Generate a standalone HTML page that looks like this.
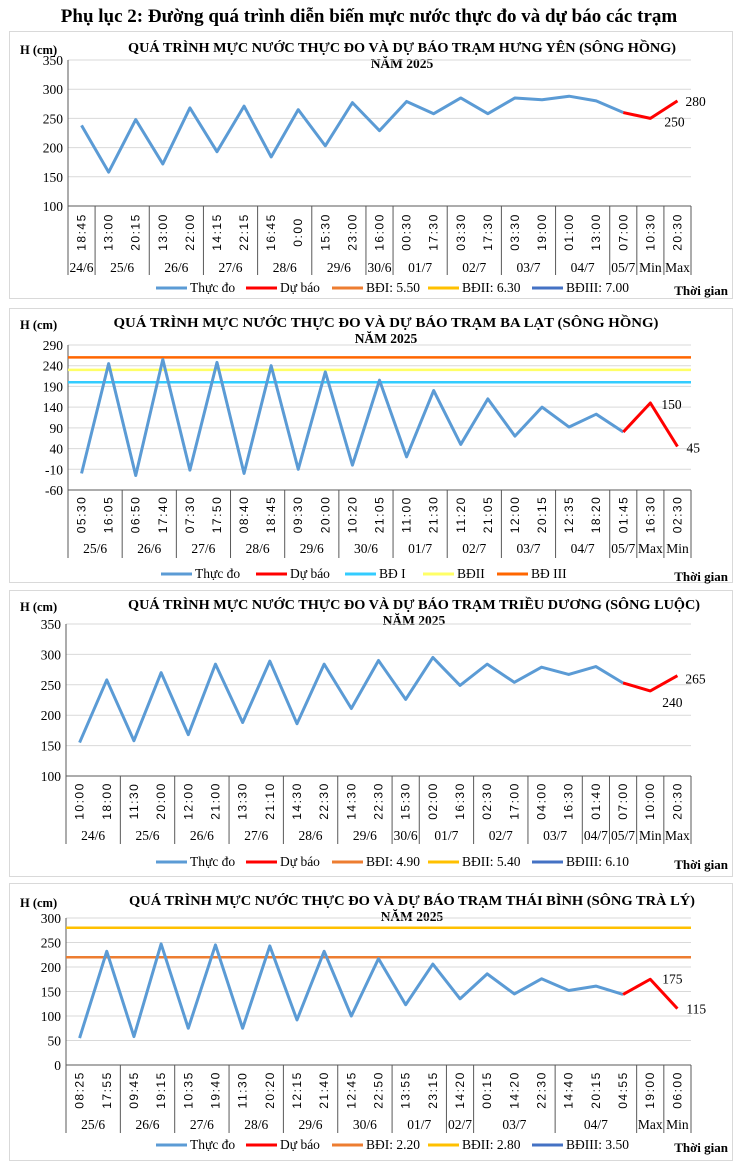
<!DOCTYPE html>
<html><head><meta charset="utf-8">
<style>
body{margin:0;background:#fff;width:738px;height:1162px;overflow:hidden;font-family:"Liberation Serif",serif}
svg{position:absolute;left:0;top:0}
</style></head><body>
<svg id="s" width="738" height="1162" xmlns="http://www.w3.org/2000/svg" font-family="Liberation Serif, serif">
<text x="369" y="22" text-anchor="middle" font-size="19" font-weight="bold">Phụ lục 2: Đường quá trình diễn biến mực nước thực đo và dự báo các trạm</text>
</svg>
<script>
// Chart 1 - Hưng Yên
const c1Times=["18:45","13:00","20:15","13:00","22:00","14:15","22:15","16:45","0:00","15:30","23:00","16:00","00:30","17:30","03:30","17:30","03:30","19:00","01:00","13:00","07:00","10:30","20:30"];
const c1Groups=["24/6","25/6","26/6","27/6","28/6","29/6","30/6","01/7","02/7","03/7","04/7","05/7","Min","Max"];
const c1GroupSizes=[1,2,2,2,2,2,1,2,2,2,2,1,1,1];
const c1Observed=[238,158,248,172,268,193,271,184,265,203,277,229,279,258,285,258,285,282,288,280,260];
const c1Forecast=[260,250,280];
const c1Ticks=[100,150,200,250,300,350];
// Chart 2 - Ba Lạt
const c2Times=["05:30","16:05","06:50","17:40","07:30","17:50","08:40","18:45","09:30","20:00","10:20","21:05","11:00","21:30","11:20","21:05","12:00","20:15","12:35","18:20","01:45","16:30","02:30"];
const c2Groups=["25/6","26/6","27/6","28/6","29/6","30/6","01/7","02/7","03/7","04/7","05/7","Max","Min"];
const c2GroupSizes=[2,2,2,2,2,2,2,2,2,2,1,1,1];
const c2Observed=[-20,245,-25,255,-12,248,-20,240,-10,225,0,205,20,180,50,160,70,140,92,123,80];
const c2Forecast=[80,150,45];
const c2Ticks=[-60,-10,40,90,140,190,240,290];
const c2Levels=[200,230,260];
// Chart 3 - Triều Dương
const c3Times=["10:00","18:00","11:30","20:00","12:00","21:00","13:30","21:10","14:30","22:30","14:30","22:30","15:30","02:00","16:30","02:30","17:00","04:00","16:30","01:40","07:00","10:00","20:30"];
const c3Groups=["24/6","25/6","26/6","27/6","28/6","29/6","30/6","01/7","02/7","03/7","04/7","05/7","Min","Max"];
const c3GroupSizes=[2,2,2,2,2,2,1,2,2,2,1,1,1,1];
const c3Observed=[155,258,158,270,168,284,188,289,186,284,211,290,226,295,249,284,254,279,267,280,253];
const c3Forecast=[253,240,265];
const c3Ticks=[100,150,200,250,300,350];
// Chart 4 - Thái Bình
const c4Times=["08:25","17:55","09:45","19:15","10:35","19:40","11:30","20:20","12:15","21:40","12:45","22:50","13:55","23:15","14:20","00:15","14:20","22:30","14:40","20:15","04:55","19:00","06:00"];
const c4Groups=["25/6","26/6","27/6","28/6","29/6","30/6","01/7","02/7","03/7","04/7","Max","Min"];
const c4GroupSizes=[2,2,2,2,2,2,2,1,3,3,1,1];
const c4Observed=[55,232,58,247,75,245,75,243,92,232,100,217,123,206,135,186,145,176,152,161,144];
const c4Forecast=[144,175,115];
const c4Ticks=[0,50,100,150,200,250,300];
const c4Levels=[220,280];

const NS="http://www.w3.org/2000/svg";
const svg=document.getElementById('s');
function mk(tag,attrs,parent,text){const e=document.createElementNS(NS,tag);for(const k in attrs)e.setAttribute(k,attrs[k]);if(text!==undefined)e.textContent=text;(parent||svg).appendChild(e);return e;}

function chart(o){
  const g=mk('g',{});
  
  
  const fr=mk('rect',{x:9.5,y:o.top+0.5,width:723,height:o.bottom-o.top,fill:'none',stroke:'#d9d9d9'},g);
  
  
  const t1=mk('text',{x:o.titleX,y:o.t1y,'text-anchor':'middle','font-size':14,'font-weight':'bold',textLength:o.titleW,lengthAdjust:'spacingAndGlyphs'},g,o.title);
  
  
  const t2=mk('text',{x:o.titleX,y:o.t1y+16,'text-anchor':'middle','font-size':13.5,'font-weight':'bold'},g,'NĂM 2025');
  
  
  const yt=mk('text',{x:20,y:o.t1y+2,'font-size':12.5,'font-weight':'bold'},g,'H (cm)');
  
  
  const lo=o.ticks[0],hi=o.ticks[o.ticks.length-1];
  const Y=v=>o.yB-(v-lo)/(hi-lo)*(o.yB-o.yT);
  const n=o.times.length,cw=(o.xR-o.xL)/n;
  const X=i=>o.xL+cw*(i+0.5);
  o.ticks.forEach(v=>{
    if(v!==lo){const gl=mk('line',{x1:o.xL,x2:o.xR,y1:Y(v),y2:Y(v),stroke:'#d9d9d9'},g);
    
    }
    const tl=mk('text',{x:o.xL-5,y:Y(v)+5,'text-anchor':'end','font-size':13.5},g,String(v));
    
    
  });
  mk('line',{x1:o.xL,x2:o.xL,y1:o.yT,y2:o.yB,stroke:'#595959'},g);
  mk('line',{x1:o.xL,x2:o.xR,y1:o.yB,y2:o.yB,stroke:'#595959'},g);
  const midT=(o.yB+o.dateY-14)/2;
  o.times.forEach((t,i)=>{
    const tx=mk('text',{x:X(i)+4,y:midT,'text-anchor':'middle','font-size':12,'letter-spacing':'1.5',transform:`rotate(-90 ${X(i)+4} ${midT})`,'font-family':'Liberation Sans, sans-serif'},g,t);
    
    
  });
  let k=0;
  mk('line',{x1:o.xL,x2:o.xL,y1:o.yB,y2:o.catB,stroke:'#595959'},g);
  o.groups.forEach((gname,j)=>{
    const s=o.sizes[j];
    const cx=o.xL+cw*(k+s/2);
    const dt=mk('text',{x:cx,y:o.dateY,'text-anchor':'middle','font-size':13.5},g,gname);
    
    
    k+=s;
    mk('line',{x1:o.xL+cw*k,x2:o.xL+cw*k,y1:o.yB,y2:o.catB,stroke:'#595959'},g);
  });
  (o.levels||[]).forEach((v,i)=>{
    const l=mk('line',{x1:o.xL,x2:o.xR,y1:Y(v),y2:Y(v),stroke:o.levelColors[i],'stroke-width':2.5},g);
    
    
  });
  const obs=mk('polyline',{points:o.obs.map((v,i)=>X(i)+','+Y(v)).join(' '),fill:'none',stroke:'#5b9bd5','stroke-width':3,'stroke-linejoin':'round'},g);
  
  
  const off=o.obs.length-1;
  const fc=mk('polyline',{points:o.fc.map((v,i)=>X(i+off)+','+Y(v)).join(' '),fill:'none',stroke:'#ff0000','stroke-width':3,'stroke-linejoin':'round'},g);
  
  
  o.fcLabels.forEach(([i,dx,dy])=>{
    const v=o.fc[i];
    const lb=mk('text',{x:X(i+off)+dx,y:Y(v)+dy,'font-size':13.5},g,String(v));
    
    
  });
  o.legend.forEach(([x,col,txt])=>{
    mk('line',{x1:x,x2:x+31,y1:o.legY-4,y2:o.legY-4,stroke:col,'stroke-width':3},g);
    const lt=mk('text',{x:x+34,y:o.legY,'font-size':13.5},g,txt);
    
    
  });
  const xt=mk('text',{x:728,y:o.legY+3,'text-anchor':'end','font-size':13,'font-weight':'bold'},g,'Thời gian');
  
  
}
const leg3=(a,b,c)=>[[156,'#5b9bd5','Thực đo'],[246,'#ff0000','Dự báo'],[332,'#ed7d31',a],[428,'#ffc000',b],[532,'#4472c4',c]];
chart({name:'chart-hung-yen',top:31,bottom:298,title:'QUÁ TRÌNH MỰC NƯỚC THỰC ĐO VÀ DỰ BÁO TRẠM HƯNG YÊN  (SÔNG HỒNG)',titleX:402,titleW:548,t1y:52,
 ticks:c1Ticks,yT:60,yB:206,xL:68,xR:691,catB:275,dateY:272,times:c1Times,groups:c1Groups,sizes:c1GroupSizes,obs:c1Observed,fc:c1Forecast,
 fcLabels:[[2,8,5],[1,14,8]],legY:292,legend:leg3('BĐI: 5.50','BĐII: 6.30','BĐIII: 7.00')});
chart({name:'chart-ba-lat',top:308,bottom:582,title:'QUÁ TRÌNH MỰC NƯỚC THỰC ĐO VÀ DỰ BÁO TRẠM BA LẠT (SÔNG HỒNG)',titleX:386,titleW:545,t1y:327,
 ticks:c2Ticks,yT:345,yB:490,xL:68,xR:691,catB:558,dateY:553,times:c2Times,groups:c2Groups,sizes:c2GroupSizes,obs:c2Observed,fc:c2Forecast,
 levels:c2Levels,levelColors:['#33ccff','#ffff66','#ff6600'],
 fcLabels:[[1,11,6],[2,9,6]],legY:578,legend:[[161,'#5b9bd5','Thực đo'],[256,'#ff0000','Dự báo'],[345,'#33ccff','BĐ I'],[423,'#ffff66','BĐII'],[497,'#ff6600','BĐ III']]});
chart({name:'chart-trieu-duong',top:590,bottom:876,title:'QUÁ TRÌNH MỰC NƯỚC THỰC ĐO VÀ DỰ BÁO TRẠM TRIỀU DƯƠNG  (SÔNG LUỘC)',titleX:414,titleW:572,t1y:609,
 ticks:c3Ticks,yT:624,yB:776,xL:66,xR:691,catB:844,dateY:840,times:c3Times,groups:c3Groups,sizes:c3GroupSizes,obs:c3Observed,fc:c3Forecast,
 fcLabels:[[2,8,8],[1,12,16]],legY:866,legend:leg3('BĐI: 4.90','BĐII: 5.40','BĐIII: 6.10')});
chart({name:'chart-thai-binh',top:883,bottom:1160,title:'QUÁ TRÌNH MỰC NƯỚC THỰC ĐO VÀ DỰ BÁO TRẠM THÁI BÌNH (SÔNG TRÀ LÝ)',titleX:412,titleW:566,t1y:905,
 ticks:c4Ticks,yT:918,yB:1065,xL:66,xR:691,catB:1133,dateY:1129,times:c4Times,groups:c4Groups,sizes:c4GroupSizes,obs:c4Observed,fc:c4Forecast,
 levels:c4Levels,levelColors:['#ed7d31','#ffc000'],
 fcLabels:[[1,12,4],[2,9,5]],legY:1149,legend:leg3('BĐI: 2.20','BĐII: 2.80','BĐIII: 3.50')});
</script>
</body></html>
